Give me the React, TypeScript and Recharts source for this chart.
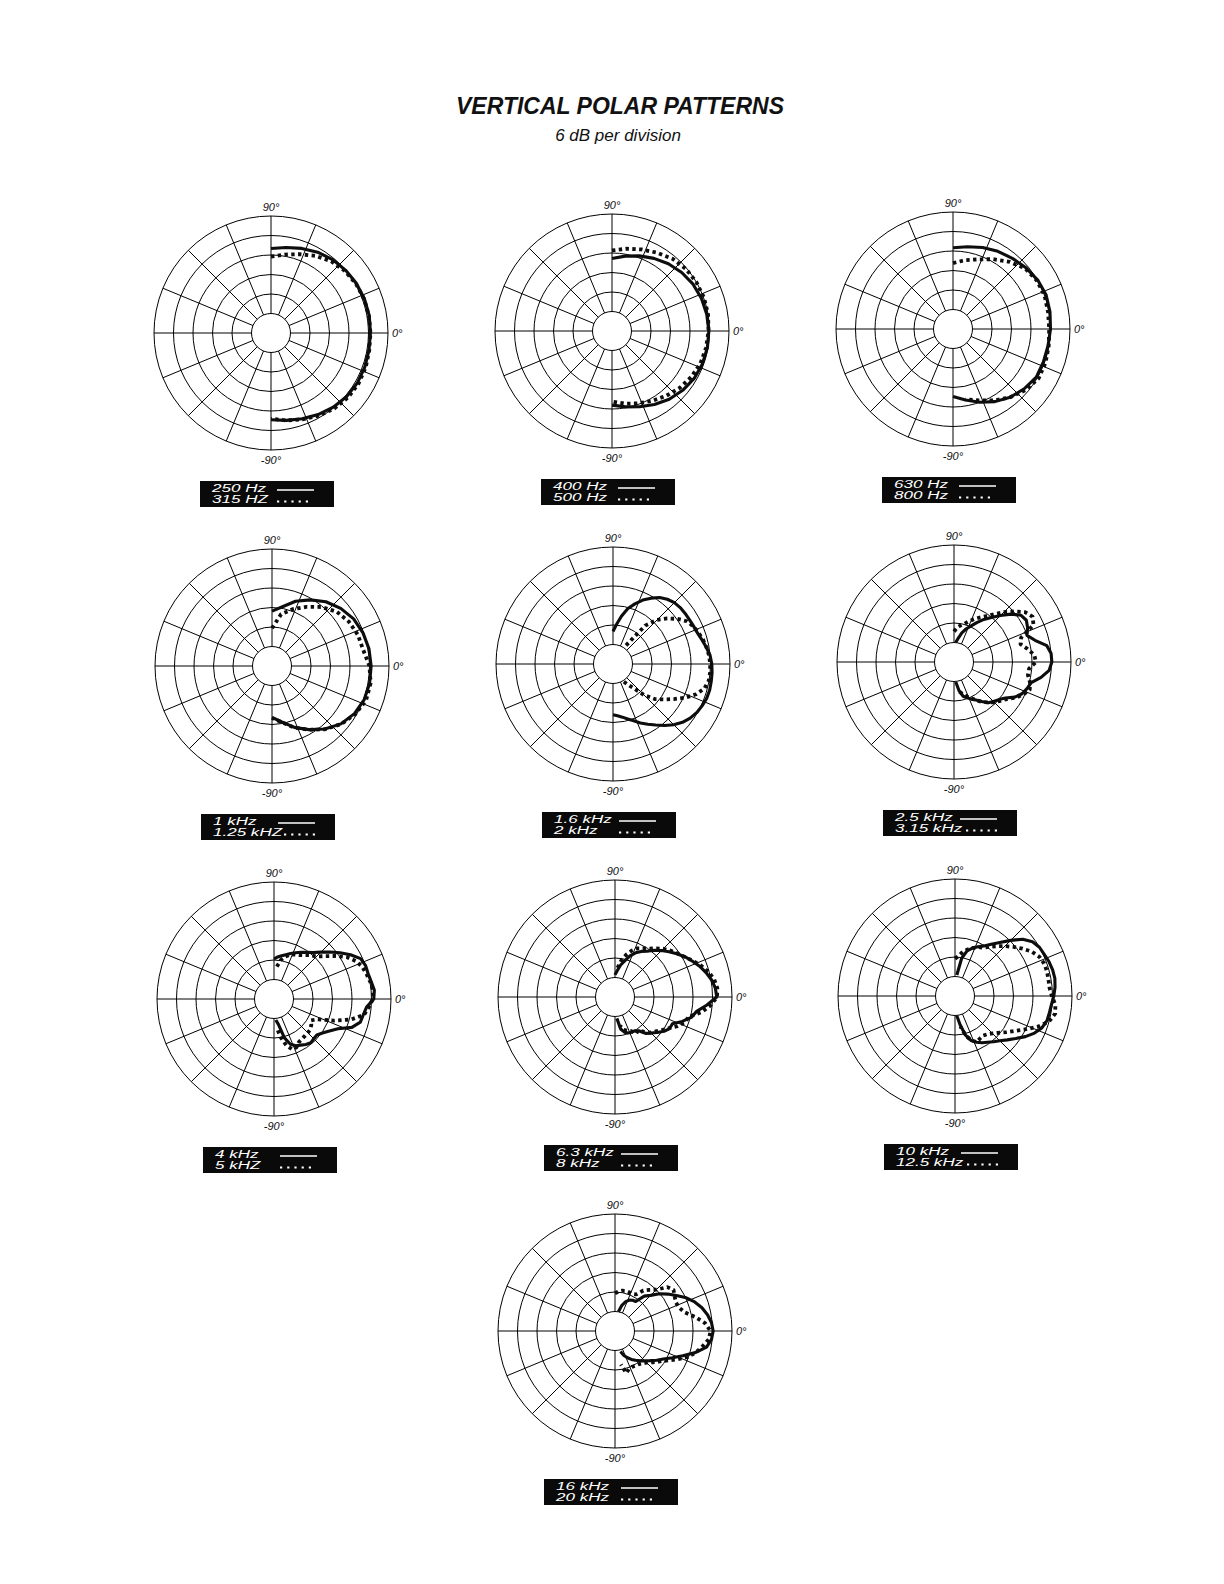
import { PolarAngleAxis, PolarGrid, PolarRadiusAxis, Radar, RadarChart } from "recharts";

const FONT = '"Liberation Sans", Arial, Helvetica, sans-serif';

// measurement angles in degrees: 90 = up, 0 = on axis, -90 = down
const ANGLES_10 = [90, 80, 70, 60, 50, 40, 30, 20, 10, 0, -10, -20, -30, -40, -50, -60, -70, -80, -90];
const ANGLES_5 = [
  90, 85, 80, 75, 70, 65, 60, 55, 50, 45, 40, 35, 30, 25, 20, 15, 10, 5, 0, -5, -10, -15, -20, -25, -30,
  -35, -40, -45, -50, -55, -60, -65, -70, -75, -80, -85, -90,
];

// grid: rings every 6 dB, 16 spokes
const RING_DB = [-30, -24, -18, -12, -6, 0];
const SPOKE_ANGLES = [0, 22.5, 45, 67.5, 90, 112.5, 135, 157.5, 180, 202.5, 225, 247.5, 270, 292.5, 315, 337.5];
const LABEL_ANGLES = [90, 0, -90];

// levels in dB, read per angle
const HZ_250 = [-10, -9.3, -8.3, -7.3, -6.5, -6.0, -5.6, -5.4, -5.3, -5.4, -5.4, -5.3, -5.3, -5.6, -6.2, -7.0, -7.9, -8.7, -9.3];
const HZ_315 = [-12.5, -11.5, -10.2, -8.6, -7.2, -6.3, -5.8, -5.5, -5.4, -5.4, -5.3, -5.0, -4.9, -5.1, -5.7, -6.6, -7.7, -8.7, -9.6];
const HZ_400 = [-13.7, -12.6, -11.4, -10.2, -9.0, -8.0, -7.2, -6.7, -6.4, -6.2, -6.2, -6.4, -6.8, -7.6, -8.6, -9.9, -11.2, -12.3, -13.2];
const HZ_500 = [-11.2, -10.3, -9.3, -8.2, -7.0, -6.3, -6.0, -5.9, -6.0, -6.3, -6.6, -7.0, -7.8, -8.8, -10.0, -11.2, -12.3, -13.3, -14.3];
const HZ_630 = [-11.0, -10.3, -9.3, -8.4, -7.6, -6.7, -5.9, -5.5, -5.7, -6.0, -6.3, -6.4, -6.4, -7.4, -8.6, -10.2, -12.0, -13.8, -15.2];
const HZ_800 = [-15.7, -14.5, -13.2, -11.2, -9.0, -7.0, -6.2, -6.0, -6.3, -6.4, -6.1, -5.7, -5.6, -6.8, -8.6, -10.6, -12.6, -14.0, null];
const KHZ_1 = [-19.1, -17.5, -14.8, -12.5, -10.2, -8.4, -7.0, -6.2, -5.7, -5.5, -5.5, -5.8, -6.7, -8.3, -10.7, -13.4, -15.9, -18.5, -20.2];
const KHZ_1_25 = [-24.4, -19.8, -17.4, -15.0, -12.3, -10.0, -8.7, -7.9, -7.5, -6.0, -5.2, -5.2, -6.4, -8.2, -10.6, -13.3, -15.8, -18.4, -20.0];

const KHZ_1_6 = [
  -26.0, -23.8, -21.1, -18.3, -16.3, -14.3, -12.6, -11.0, -10.0, -9.3, -9.0, -8.9, -8.8, -8.6, -8.3, -7.6, -6.8, -6.0, -5.6,
  -5.4, -5.3, -5.2, -5.3, -5.7, -6.2, -7.0, -8.1, -9.6, -11.3, -13.1, -14.6, -16.0, -17.4, -18.5, -19.4, -20.0, -20.4,
];
const KHZ_2 = [
  null, null, null, null, null, null, null, -29.0, -20.6, -16.8, -14.2, -11.8, -9.7, -8.7, -8.0, -7.3, -6.8, -6.3, -6.1,
  -6.0, -6.1, -6.9, -8.8, -11.5, -14.4, -17.0, -19.2, -22.5, -26.5, -28.5, -30.0, null, null, null, null, null, null,
];
const KHZ_2_5 = [
  null, -30.0, -28.6, -26.7, -25.2, -23.8, -22.0, -20.0, -18.1, -15.8, -13.1, -10.9, -10.3, -11.0, -12.1, -10.2, -7.0, -6.0, -5.9,
  -6.6, -8.8, -11.4, -12.1, -12.9, -14.4, -16.7, -18.0, -18.8, -19.6, -21.2, -22.5, -23.4, -24.3, -25.1, -27.0, -29.8, null,
];
const KHZ_3_15 = [
  -26.6, -25.4, -24.6, -23.9, -22.7, -21.5, -20.2, -18.8, -16.8, -14.3, -11.8, -9.3, -8.1, -9.0, -14.0, -14.8, -13.0, -11.2, -10.8,
  -12.8, -12.9, -11.8, -11.2, -12.4, -14.0, -16.1, -17.4, -18.4, -19.8, -21.0, -22.5, -23.8, -24.8, -25.8, -26.8, null, null,
];
const KHZ_4 = [
  -23.7, -23.0, -22.5, -21.9, -21.1, -20.3, -19.4, -18.5, -17.3, -15.6, -13.5, -11.2, -8.8, -6.6, -6.0, -6.0, -5.6, -5.0, -5.3,
  -7.4, -8.1, -8.5, -10.5, -14.3, -16.3, -17.8, -18.8, -18.7, -18.4, -18.9, -19.6, -20.1, -21.2, -23.6, -28.0, -29.5, null,
];
const KHZ_5 = [
  null, -26.0, -23.8, -22.5, -21.5, -20.9, -20.4, -19.5, -18.4, -17.5, -15.5, -12.9, -10.2, -8.3, -7.1, -6.5, -5.9, -5.4, -5.6,
  -6.7, -7.9, -11.5, -16.5, -21.3, -22.8, -22.0, -21.4, -21.3, -21.2, -21.0, -20.7, -19.6, -19.5, -21.2, -24.0, -27.3, null,
];
const KHZ_6_3 = [
  -29.2, -27.8, -26.0, -24.5, -22.5, -21.0, -19.8, -18.8, -17.2, -15.8, -14.3, -12.8, -11.2, -9.8, -8.3, -7.0, -5.8, -5.0, -4.7,
  -7.6, -10.5, -11.7, -14.0, -16.5, -16.6, -17.6, -19.0, -20.3, -21.4, -23.3, -24.0, -24.0, -24.2, -24.8, -26.0, -29.4, null,
];
const KHZ_8 = [
  null, -27.0, -24.5, -22.5, -20.8, -19.5, -18.7, -17.8, -16.5, -15.0, -13.8, -12.6, -11.3, -9.6, -7.8, -6.2, -5.0, -4.4, -4.6,
  -6.5, -9.0, -12.5, -13.2, -14.8, -16.8, -18.3, -19.6, -20.5, -22.0, -23.5, -23.0, -24.5, -25.0, -25.5, -27.0, null, null,
];
const KHZ_10 = [
  null, -29.5, -24.2, -21.6, -20.3, -19.3, -18.2, -16.6, -14.5, -11.8, -8.8, -6.9, -6.0, -5.7, -5.2, -4.9, -4.8, -5.1, -5.6,
  -6.2, -6.5, -6.7, -7.5, -9.0, -11.0, -13.2, -15.0, -16.5, -17.6, -18.6, -19.4, -20.3, -21.4, -23.5, -27.0, -30.0, null,
];
const KHZ_12_5 = [
  -24.5, -23.7, -22.2, -21.2, -20.3, -19.4, -18.8, -17.5, -16.0, -14.3, -12.5, -10.6, -8.7, -7.4, -6.8, -6.7, -6.8, -6.8, -6.2,
  -5.0, -4.7, -6.0, -8.6, -11.8, -14.6, -16.6, -18.4, -19.7, -20.6, -21.1, -20.8, -20.4, -21.5, -23.5, -26.5, null, null,
];
const KHZ_16 = [
  null, null, -30.0, -27.8, -26.4, -25.5, -25.1, -24.9, -22.0, -20.5, -18.2, -16.2, -14.2, -11.8, -9.9, -8.3, -7.1, -6.2, -5.8,
  -6.2, -7.4, -10.4, -13.8, -16.5, -18.8, -20.3, -21.8, -23.0, -24.0, -25.0, -25.9, -26.9, -28.0, -29.5, null, null, null,
];
const KHZ_20 = [
  -24.4, -23.8, -23.4, -23.2, -23.3, -23.4, -23.0, -20.8, -19.5, -18.0, -15.0, -14.0, -14.8, -15.3, -15.0, -13.8, -11.0, -8.2, -6.6,
  -7.0, -8.7, -10.3, -12.4, -15.2, -17.8, -19.6, -21.0, -22.2, -23.0, -23.5, -23.6, -23.8, -23.5, -22.6, -25.5, null, null,
];

const PANELS = [
  { angles: ANGLES_10, solid: HZ_250, dotted: HZ_315, labels: ["250 Hz", "315 HZ"] },
  { angles: ANGLES_10, solid: HZ_400, dotted: HZ_500, labels: ["400 Hz", "500 Hz"] },
  { angles: ANGLES_10, solid: HZ_630, dotted: HZ_800, labels: ["630 Hz", "800 Hz"] },
  { angles: ANGLES_10, solid: KHZ_1, dotted: KHZ_1_25, labels: ["1 kHz", "1.25 kHZ"] },
  { angles: ANGLES_5, solid: KHZ_1_6, dotted: KHZ_2, labels: ["1.6 kHz", "2 kHz"] },
  { angles: ANGLES_5, solid: KHZ_2_5, dotted: KHZ_3_15, labels: ["2.5 kHz", "3.15 kHz"] },
  { angles: ANGLES_5, solid: KHZ_4, dotted: KHZ_5, labels: ["4 kHz", "5 kHZ"] },
  { angles: ANGLES_5, solid: KHZ_6_3, dotted: KHZ_8, labels: ["6.3 kHz", "8 kHz"] },
  { angles: ANGLES_5, solid: KHZ_10, dotted: KHZ_12_5, labels: ["10 kHz", "12.5 kHz"] },
  { angles: ANGLES_5, solid: KHZ_16, dotted: KHZ_20, labels: ["16 kHz", "20 kHz"] },
];

// page position of each polar centre
const CENTERS = [
  [271, 333], [612, 331], [953, 329],
  [272, 666], [613, 664], [954, 662],
  [274, 999], [615, 997], [955, 996],
  [615, 1331],
];

const SIZE = 300;
const INNER_R = 19.5;
const OUTER_R = 117;

// open trace through the points Recharts computed (no closing back to the start)
function traceShape(dotted: boolean) {
  return (props: any) => {
    const points = props.points ?? [];
    let d = "";
    let down = false;
    for (const p of points) {
      const ok = p.value != null && Number.isFinite(p.x) && Number.isFinite(p.y);
      if (!ok) {
        down = false;
        continue;
      }
      d += `${down ? "L" : "M"}${p.x},${p.y}`;
      down = true;
    }
    return (
      <path
        d={d}
        fill="none"
        stroke="#0d0d0d"
        strokeWidth={dotted ? 3.8 : 3.1}
        strokeDasharray={dotted ? "3.4 3.4" : undefined}
        strokeLinejoin="round"
      />
    );
  };
}

function AngleTick(props: any) {
  const { x, y, payload } = props;
  const v = payload?.value;
  const anchor = v === 0 ? "start" : "middle";
  const dy = v === 90 ? -1 : v === 0 ? 4 : 10;
  return (
    <text x={x} y={y + dy} textAnchor={anchor} fontSize={11} fontStyle="italic" fontFamily={FONT} fill="#111">
      {`${v}°`}
    </text>
  );
}

function LegendBox({ left, top, labels }: { left: number; top: number; labels: string[] }) {
  const dotStart = labels[1].length > 7 ? 83 : 77;
  return (
    <svg style={{ position: "absolute", left, top }} width={134} height={26}>
      <rect width={134} height={26} fill="#0a0a0a" />
      <text transform="translate(12 11) scale(1.55 1)" fontSize={11} fontStyle="italic" fill="#fff" fontFamily={FONT}>
        {labels[0]}
      </text>
      <line x1={77} x2={114} y1={9} y2={9} stroke="#fff" strokeWidth={1.4} />
      <text transform="translate(12 22) scale(1.55 1)" fontSize={11} fontStyle="italic" fill="#fff" fontFamily={FONT}>
        {labels[1]}
      </text>
      <line x1={dotStart} x2={dotStart + 34} y1={20.5} y2={20.5} stroke="#fff" strokeWidth={1.8} strokeDasharray="2.2 5" />
    </svg>
  );
}

function PolarPanel({ panel, cx, cy }: { panel: (typeof PANELS)[number]; cx: number; cy: number }) {
  const data = panel.angles.map((angle, i) => ({ angle, solid: panel.solid[i], dotted: panel.dotted[i] }));
  return (
    <>
      <div style={{ position: "absolute", left: cx - SIZE / 2, top: cy - SIZE / 2, width: SIZE, height: SIZE }}>
        <RadarChart
          width={SIZE}
          height={SIZE}
          data={data}
          cx={SIZE / 2}
          cy={SIZE / 2}
          innerRadius={INNER_R}
          outerRadius={OUTER_R}
          startAngle={-180}
          endAngle={180}
          margin={{ top: 0, right: 0, bottom: 0, left: 0 }}
        >
          <PolarGrid gridType="circle" polarAngles={SPOKE_ANGLES} stroke="#000" strokeWidth={1} />
          <PolarAngleAxis
            dataKey="angle"
            type="number"
            domain={[-180, 180]}
            ticks={LABEL_ANGLES}
            tick={<AngleTick />}
            tickLine={false}
            axisLine={false}
            tickSize={4}
          />
          <PolarRadiusAxis type="number" domain={[-30, 0]} ticks={RING_DB} tick={false} axisLine={false} />
          <Radar dataKey="solid" shape={traceShape(false)} dot={false} isAnimationActive={false} />
          <Radar dataKey="dotted" shape={traceShape(true)} dot={false} isAnimationActive={false} />
        </RadarChart>
      </div>
      <LegendBox left={cx - 71} top={cy + 148} labels={panel.labels} />
    </>
  );
}

export default function App() {
  return (
    <div style={{ position: "absolute", left: 0, top: 0, width: 1224, height: 1584, background: "#fff", fontFamily: FONT }}>
      <div
        style={{
          position: "absolute",
          left: 320,
          width: 600,
          top: 95,
          textAlign: "center",
          fontSize: 23,
          lineHeight: "23px",
          fontWeight: 700,
          fontStyle: "italic",
          color: "#111",
        }}
      >
        VERTICAL POLAR PATTERNS
      </div>
      <div
        style={{
          position: "absolute",
          left: 318,
          width: 600,
          top: 127,
          textAlign: "center",
          fontSize: 17,
          lineHeight: "17px",
          fontStyle: "italic",
          color: "#111",
        }}
      >
        6 dB per division
      </div>
      {PANELS.map((panel, i) => (
        <PolarPanel key={panel.labels[0]} panel={panel} cx={CENTERS[i][0]} cy={CENTERS[i][1]} />
      ))}
    </div>
  );
}
